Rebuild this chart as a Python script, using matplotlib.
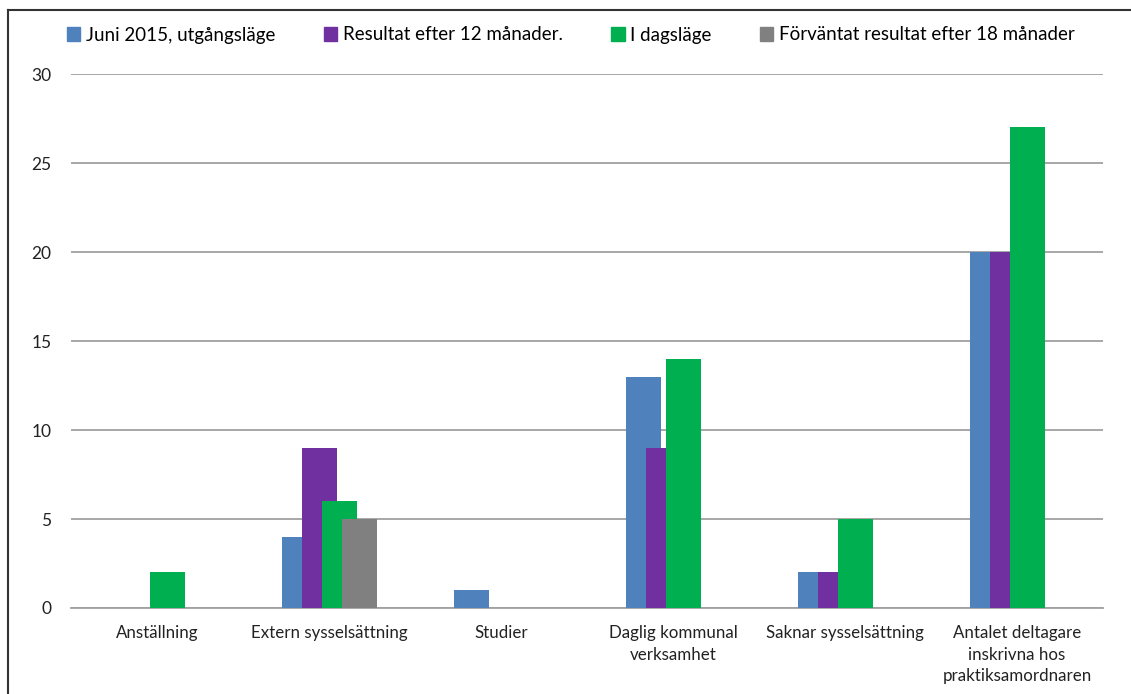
import numpy as np
import matplotlib.pyplot as plt
from matplotlib.lines import Line2D
from matplotlib.patches import Patch

plt.rcParams['font.family'] = ['Lato', 'DejaVu Sans']

categories = ['Anställning', 'Extern sysselsättning', 'Studier',
              'Daglig kommunal\nverksamhet', 'Saknar sysselsättning',
              'Antalet deltagare\ninskrivna hos\npraktiksamordnaren']
series = ['Juni 2015, utgångsläge', 'Resultat efter 12 månader.',
          'I dagsläge', 'Förväntat resultat efter 18 månader']
juni_2015 = [0, 4, 1, 13, 2, 20]
efter_12 = [0, 9, 0, 9, 2, 20]
dagslage = [2, 6, 0, 14, 5, 27]
efter_18 = [0, 5, 0, 0, 0, 0]
colors = ['#4f81bd', '#7030a0', '#00b050', '#808080']

fig = plt.figure(figsize=(11.31, 6.94), dpi=100)
ax = fig.add_axes([71/1131, 1 - 608/694, 1032/1131, 534/694])

x = np.arange(len(categories))
step = 20/172
width = 35/172
for i, (vals, c) in enumerate(zip([juni_2015, efter_12, dagslage, efter_18], colors)):
    ax.bar(x + (i - 1.5) * step, vals, width, color=c, zorder=3 + i)

ax.set_xlim(-0.5, len(categories) - 0.5)
ax.set_ylim(0, 30)
ax.set_yticks(range(0, 31, 5))
ax.yaxis.grid(True, color='#a0a0a0', linewidth=1.3, zorder=0)
ax.set_xticks(x)
ax.set_xticklabels(categories, fontsize=12.2, color='#222222', linespacing=1.45)
ax.tick_params(axis='y', labelsize=12.5, colors='#222222', length=0, pad=14)
ax.tick_params(axis='x', length=0, pad=12)
for s in ['top', 'right', 'left']:
    ax.spines[s].set_visible(False)
ax.spines['bottom'].set_color('#a0a0a0')
ax.spines['bottom'].set_linewidth(1.3)

handles = [Patch(color=c) for c in colors]
fig.legend(handles, series, loc='center', bbox_to_anchor=(571/1131, 1 - 35/694),
           ncol=4, frameon=False, fontsize=13.5, handlelength=0.7, handleheight=0.7,
           handletextpad=0.3, columnspacing=2.6)

# outer frame (top and left only)
fig.add_artist(Line2D([8/1131, 1], [1 - 9.5/694, 1 - 9.5/694], color='#333333', lw=1.5))
fig.add_artist(Line2D([8/1131, 8/1131], [0, 1 - 9.5/694], color='#333333', lw=1.5))

fig.savefig('out.png', dpi=100)
